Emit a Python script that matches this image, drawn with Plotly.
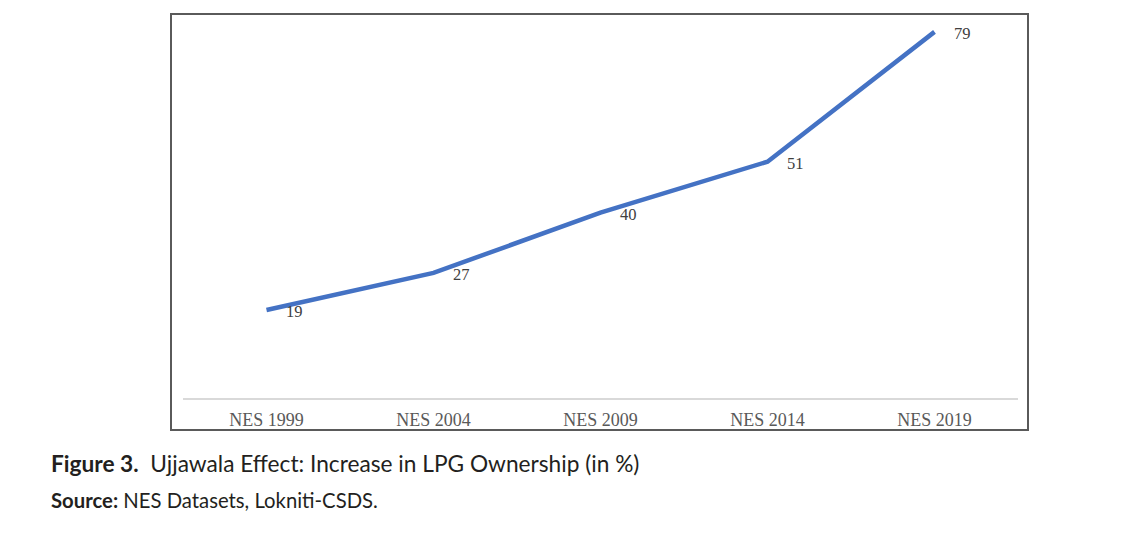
import plotly.graph_objects as go

categories = ["NES 1999", "NES 2004", "NES 2009", "NES 2014", "NES 2019"]
lpg_ownership = [19, 27, 40, 51, 79]

OFF = 8  # default body margin of the html page
W, H = 1142 - 2 * OFF, 536 - 2 * OFF
ML, MR, MT, MB = 183 - OFF, 124 - OFF, 18 - OFF, 138 - OFF
pw = W - ML - MR
ph = H - MT - MB

def px_x(p):
    return (p - OFF - ML) / pw

def px_y(p):
    return (H - MB - (p - OFF)) / ph

fig = go.Figure()
fig.add_trace(go.Scatter(
    x=categories, y=lpg_ownership, mode="lines",
    line=dict(color="#4472C4", width=4.5),
    hoverinfo="skip", showlegend=False,
))

for c, v in zip(categories, lpg_ownership):
    fig.add_annotation(
        x=c, y=v, text=str(v), showarrow=False,
        xshift=28, yshift=-2,
        font=dict(family="Liberation Serif", size=16.5, color="#404040"),
    )

# outer frame of the chart
fig.add_shape(type="rect", xref="paper", yref="paper",
              x0=px_x(171), x1=px_x(1028), y0=px_y(430), y1=px_y(14),
              line=dict(color="#5a5a5a", width=2), layer="below")

fig.add_annotation(xref="paper", yref="paper", x=px_x(49), y=px_y(463),
                   xanchor="left", yanchor="middle", showarrow=False,
                   text="<b>Figure 3.</b>  Ujjawala Effect: Increase in LPG Ownership (in %)",
                   font=dict(family="Lato", size=22.7, color="#231f20"))
fig.add_annotation(xref="paper", yref="paper", x=px_x(49), y=px_y(500),
                   xanchor="left", yanchor="middle", showarrow=False,
                   text="<b>Source:</b> NES Datasets, Lokniti-CSDS.",
                   font=dict(family="Lato", size=20.3, color="#231f20"))

fig.update_layout(
    width=W, height=H,
    margin=dict(l=ML, r=MR, t=MT, b=MB, pad=0),
    paper_bgcolor="white", plot_bgcolor="white",
    xaxis=dict(range=[-0.5, 4.5], showgrid=False, showline=True,
               linecolor="#d9d9d9", linewidth=2,
               ticks="outside", ticklen=4, tickcolor="rgba(0,0,0,0)",
               tickfont=dict(family="Liberation Serif", size=18, color="#595959"),
               zeroline=False, fixedrange=True),
    yaxis=dict(range=[0, 82], visible=False, fixedrange=True),
)

fig.write_html("out.html")
